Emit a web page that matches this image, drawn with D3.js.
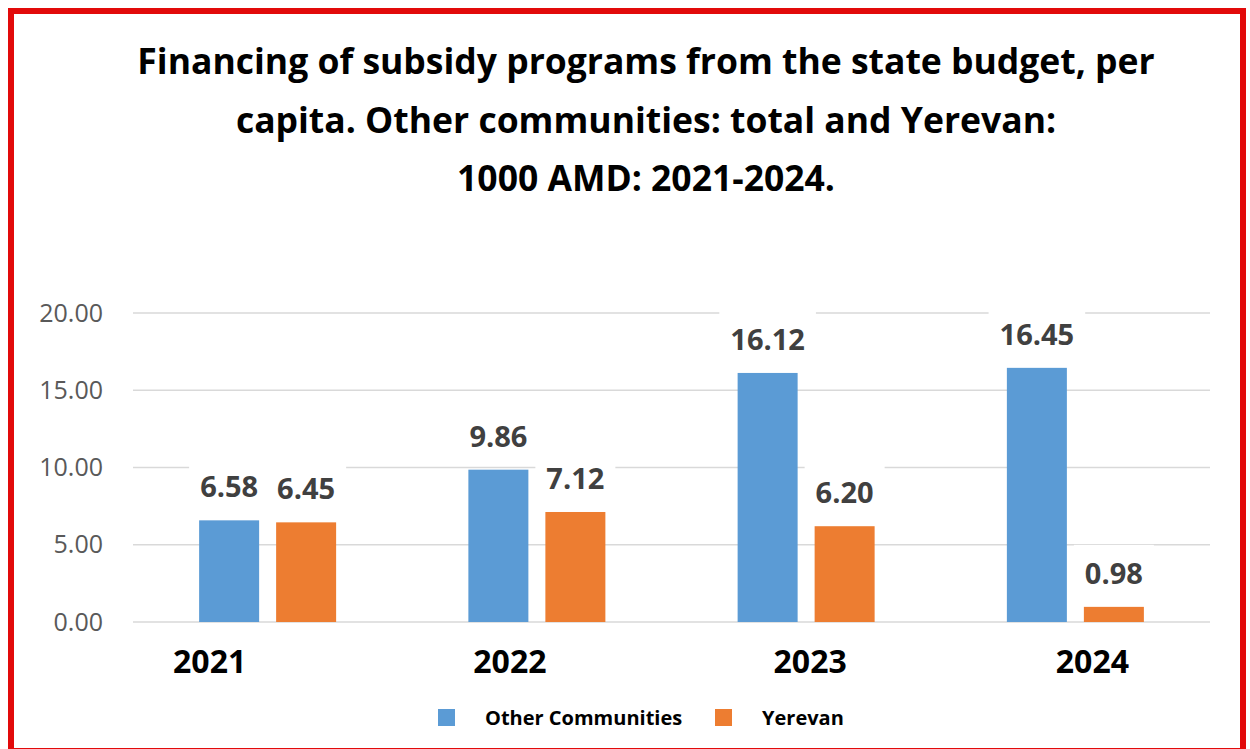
<!DOCTYPE html>
<html>
<head>
<meta charset="utf-8">
<script src="https://cdn.jsdelivr.net/npm/d3@7"></script>
<style>
  html, body { margin: 0; padding: 0; background: #ffffff; }
  svg { display: block; }
  text { font-family: "Open Sans", "Noto Sans", sans-serif; }
</style>
</head>
<body>
<svg id="chart" width="1250" height="749"></svg>
<script>
// Data: per-capita financing of subsidy programs, thousand AMD
const years = ["2021", "2022", "2023", "2024"];
const seriesNames = ["Other Communities", "Yerevan"];
const otherCommunities = [6.58, 9.86, 16.12, 16.45];
const yerevan = [6.45, 7.12, 6.20, 0.98];
const yTicks = [0, 5, 10, 15, 20];
const titleLines = [
  "Financing of subsidy programs from the state budget, per",
  "capita. Other communities: total and Yerevan:",
  "1000 AMD: 2021-2024."
];

const seriesValues = [otherCommunities, yerevan];
const colors = ["#5b9bd5", "#ed7d31"];

const svg = d3.select("#chart");
const W = 1250, H = 749;

// Frame
svg.append("rect").attr("x", 0).attr("y", 0).attr("width", W).attr("height", H).attr("fill", "#ffffff");
svg.append("rect")
  .attr("x", 11).attr("y", 11).attr("width", 1232).attr("height", 740)
  .attr("fill", "#ffffff").attr("stroke", "#e20a0a").attr("stroke-width", 6);

// Title
const titleG = svg.append("g");
titleG.selectAll("text").data(titleLines).join("text")
  .attr("x", 646)
  .attr("y", (d, i) => [74, 133, 191][i])
  .attr("text-anchor", "middle")
  .attr("font-size", 35.5)
  .attr("font-weight", 700)
  .attr("fill", "#000")
  .text(d => d);

// Scales
const x = d3.scaleBand().domain(years).range([133, 1210]).paddingInner(0).paddingOuter(0);
const xs = d3.scaleBand().domain(seriesNames).range([0, x.bandwidth()])
  .paddingInner(0.2208).paddingOuter(0.8588);
const y = d3.scaleLinear().domain([0, 20]).range([622, 313]);

// Gridlines
const grid = svg.append("g");
grid.selectAll("line").data(yTicks).join("line")
  .attr("x1", 133).attr("x2", 1210)
  .attr("y1", d => y(d)).attr("y2", d => y(d))
  .attr("stroke", "#d9d9d9").attr("stroke-width", 1.5);

// Y axis labels
const yAxis = d3.axisLeft(y).tickValues(yTicks).tickFormat(d3.format(".2f")).tickSize(0).tickPadding(0);
const yg = svg.append("g").attr("transform", "translate(103,0)").call(yAxis);
yg.select(".domain").remove();
yg.selectAll("text")
  .attr("font-size", 25)
  .attr("fill", "#595959")
  .attr("font-family", "\"Open Sans\", sans-serif");

// Bars
const rows = years.map((yr, i) => ({
  year: yr,
  items: seriesNames.map((s, j) => ({ year: yr, series: s, idx: j, value: seriesValues[j][i] }))
}));

const groups = svg.append("g").selectAll("g").data(rows).join("g")
  .attr("transform", d => `translate(${x(d.year)},0)`);

groups.selectAll("rect.bar").data(d => d.items).join("rect")
  .attr("class", "bar")
  .attr("x", d => xs(d.series))
  .attr("width", xs.bandwidth())
  .attr("y", d => y(d.value))
  .attr("height", d => y(0) - y(d.value))
  .attr("fill", d => colors[d.idx]);

// Value labels with white backing boxes
const labelG = svg.append("g");
const labelItems = rows.flatMap(r => r.items);
const lab = labelG.selectAll("g").data(labelItems).join("g")
  .attr("transform", d => `translate(${x(d.year) + xs(d.series) + xs.bandwidth() / 2},${y(d.value) - 23})`);
lab.append("rect").attr("fill", "#ffffff");
lab.append("text")
  .attr("text-anchor", "middle")
  .attr("font-size", 29)
  .attr("font-weight", 700)
  .attr("fill", "#404040")
  .text(d => d.value.toFixed(2));
lab.each(function () {
  const g = d3.select(this);
  const bb = g.select("text").node().getBBox();
  g.select("rect")
    .attr("x", bb.x - 11).attr("y", bb.y - 8)
    .attr("width", bb.width + 22).attr("height", bb.height + 12);
});

// Year labels
const yearNudge = [-58, -27, 4, 17];
svg.append("g").selectAll("text").data(years).join("text")
  .attr("x", (d, i) => x(d) + x.bandwidth() / 2 + yearNudge[i])
  .attr("y", 673)
  .attr("text-anchor", "middle")
  .attr("font-size", 32)
  .attr("font-weight", 700)
  .attr("fill", "#000")
  .text(d => d);

// Legend
const legendPos = [438, 715];
const legend = svg.append("g").selectAll("g").data(seriesNames).join("g")
  .attr("transform", (d, i) => `translate(${legendPos[i]},709)`);
legend.append("rect").attr("width", 17).attr("height", 17).attr("fill", (d, i) => colors[i]);
legend.append("text")
  .attr("x", 47).attr("y", 15.5)
  .attr("font-size", 20)
  .attr("font-weight", 700)
  .attr("fill", "#000")
  .text(d => d);
</script>
</body>
</html>
